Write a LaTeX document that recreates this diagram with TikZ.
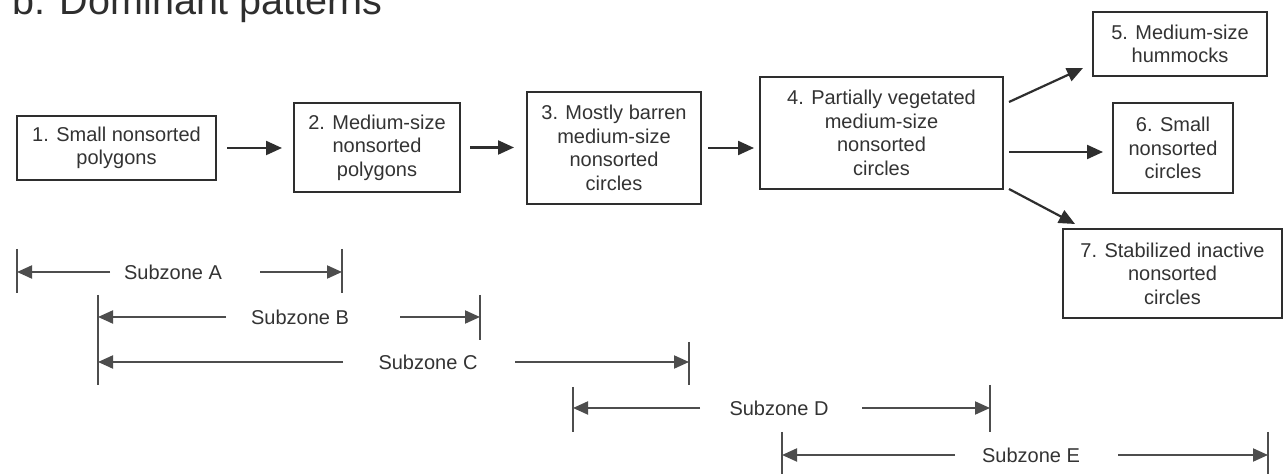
\documentclass[tikz,border=0pt]{standalone}
\usepackage{fontspec}
\setmainfont{Liberation Sans}
\usetikzlibrary{arrows.meta,calc}
\definecolor{ink}{HTML}{2E2E2E}
\definecolor{txt}{HTML}{333333}
\tikzset{
  box/.style={draw=ink, line width=1pt, inner sep=0pt, align=center, text=txt,
    font=\fontsize{10}{11.75}\selectfont},
  flow/.style={draw=ink, line width=1.1pt, -{Triangle[length=8pt,width=7pt]}},
  zarr/.style={draw=ink!85, line width=1pt, -{Triangle[length=7.5pt,width=6.5pt]}},
  ztick/.style={draw=ink!85, line width=1pt},
  zlabel/.style={inner sep=0pt, text=txt, font=\fontsize{10}{12}\selectfont}
}
\begin{document}
\begin{tikzpicture}[x=0.5pt,y=-0.5pt]
\useasboundingbox (0,0) rectangle (1284,474);
\clip (0,0) rectangle (1284,474);
\fill[white] (0,0) rectangle (1284,474);

% title
\node[anchor=base west, inner sep=0pt, text=ink, font=\fontsize{19.75}{22}\selectfont] (title) at (12,15) {b. Dominant patterns};

% boxes
\node[box, minimum width=99.5pt, minimum height=32pt] (b1) at (116.5,148) {1. Small nonsorted\\polygons};
\node[box, minimum width=83pt, minimum height=44.5pt] (b2) at (377,147.5) {2. Medium-size\\nonsorted\\polygons};
\node[box, minimum width=87pt, minimum height=56pt] (b3) at (614,148) {3. Mostly barren\\medium-size\\nonsorted\\circles};
\node[box, minimum width=121.5pt, minimum height=56pt] (b4) at (881.5,133) {4. Partially vegetated\\medium-size\\nonsorted\\circles};
\node[box, minimum width=87pt, minimum height=32pt] (b5) at (1180,44) {5. Medium-size\\hummocks};
\node[box, minimum width=60pt, minimum height=45pt] (b6) at (1173,148) {6. Small\\nonsorted\\circles};
\node[box, minimum width=109.5pt, minimum height=44.5pt] (b7) at (1172.5,273.5) {7. Stabilized inactive\\nonsorted\\circles};

% flow arrows
\draw[flow, shorten <=5pt, shorten >=5.5pt] (b1.east) -- (b1.east -| b2.west);
\draw[flow, shorten <=4.5pt, shorten >=6pt] (b2.east) -- (b2.east -| b3.west);
\draw[flow, shorten <=3pt, shorten >=2.5pt] (b3.east) -- (b3.east -| b4.west);
\draw[flow] ($(b4.north east)+(5,26)$) -- ($(b5.south west)+(-9,-9)$);
\draw[flow] ($(b4.east)+(5,19)$) -- ($(b6.west)+(-9,4)$);
\draw[flow] ($(b4.south east)+(5,-1)$) -- ($(b7.north west)+(13,-4)$);

% subzone A
\draw[ztick] (17,249) -- (17,293);
\draw[ztick] (342,249) -- (342,293);
\node[zlabel] (za) at (173,272) {Subzone A};
\coordinate (zaL) at (17,272); \coordinate (zaR) at (342,272);
\draw[zarr] (110,272) -- (zaL);
\draw[zarr] (260,272) -- (zaR);

% subzone B and C shared left tick
\draw[ztick] (98,295) -- (98,385);
\draw[ztick] (480,295) -- (480,340);
\node[zlabel] (zb) at (300,317) {Subzone B};
\coordinate (zbL) at (98,317); \coordinate (zbR) at (480,317);
\draw[zarr] (226,317) -- (zbL);
\draw[zarr] (400,317) -- (zbR);

% subzone C
\draw[ztick] (689,342) -- (689,385);
\node[zlabel] (zc) at (428,362) {Subzone C};
\coordinate (zcL) at (98,362); \coordinate (zcR) at (689,362);
\draw[zarr] (343,362) -- (zcL);
\draw[zarr] (515,362) -- (zcR);

% subzone D
\draw[ztick] (573,387) -- (573,432);
\draw[ztick] (990,385) -- (990,432);
\node[zlabel] (zd) at (779,408) {Subzone D};
\coordinate (zdL) at (573,408); \coordinate (zdR) at (990,408);
\draw[zarr] (700,408) -- (zdL);
\draw[zarr] (862,408) -- (zdR);

% subzone E
\draw[ztick] (782,432) -- (782,476);
\draw[ztick] (1268,432) -- (1268,476);
\node[zlabel] (ze) at (1031,455) {Subzone E};
\coordinate (zeL) at (782,455); \coordinate (zeR) at (1268,455);
\draw[zarr] (955,455) -- (zeL);
\draw[zarr] (1118,455) -- (zeR);
\end{tikzpicture}
\end{document}
